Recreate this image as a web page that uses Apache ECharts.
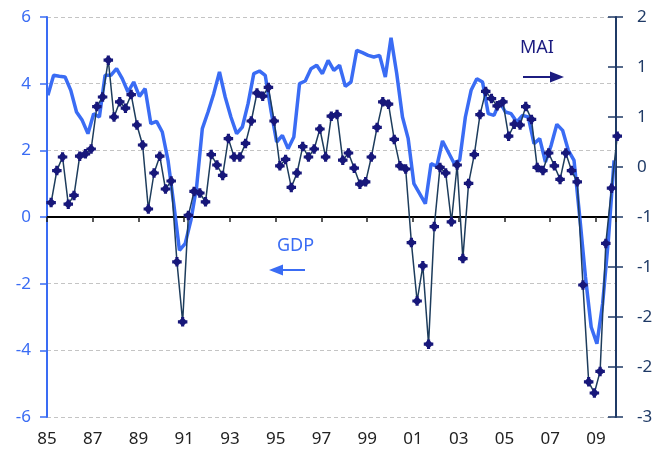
<!DOCTYPE html>
<html>
<head>
<meta charset="utf-8">
<title>GDP and MAI</title>
<style>
  html, body { margin: 0; padding: 0; background: #fff; }
  #main { width: 670px; height: 453px; }
</style>
<script src="https://cdn.jsdelivr.net/npm/echarts@6/dist/echarts.min.js"></script>
</head>
<body>
<div id="main"></div>
<script>
// quarterly data, 1985Q1 .. 2009Q4
var startYear = 1985;

// GDP, % yoy (left axis)
var gdp = [
  3.65, 4.25, 4.22, 4.2, 3.8, 3.15, 2.9, 2.5, 3.1, 3.0,
  4.25, 4.25, 4.45, 4.15, 3.75, 4.05, 3.62, 3.85, 2.8, 2.87,
  2.55, 1.7, 0.4, -1.0, -0.8, -0.1, 0.9, 2.65, 3.15, 3.7,
  4.35, 3.6, 3.0, 2.5, 2.7, 3.4, 4.3, 4.38, 4.25, 3.2,
  2.25, 2.45, 2.05, 2.4, 4.0, 4.08, 4.45, 4.55, 4.3, 4.7,
  4.4, 4.55, 3.92, 4.05, 5.0, 4.93, 4.85, 4.8, 4.85, 4.2,
  5.38, 4.3, 3.0, 2.35, 1.0, 0.7, 0.4, 1.6, 1.52, 2.28,
  1.95, 1.62, 1.7, 3.0, 3.8, 4.15, 4.05, 3.1, 3.05, 3.45,
  3.15, 3.1, 2.85, 3.05, 3.0, 2.2, 2.35, 1.65, 2.15, 2.78,
  2.6, 2.0, 1.7, 0.0, -1.8, -3.3, -3.8, -2.6, -0.7, 1.7
];

// MAI index (right axis)
var mai = [
  -0.32, 0.08, 0.25, -0.34, -0.23, 0.26, 0.29, 0.35, 0.88, 1.0,
  1.46, 0.75, 0.94, 0.86, 1.03, 0.65, 0.4, -0.4, 0.05, 0.26,
  -0.15, -0.05, -1.06, -1.81, -0.48, -0.18, -0.2, -0.31, 0.28, 0.15,
  0.02, 0.48, 0.25, 0.25, 0.42, 0.7, 1.05, 1.01, 1.12, 0.7,
  0.14, 0.22, -0.13, 0.05, 0.38, 0.25, 0.35, 0.6, 0.25, 0.76,
  0.78, 0.21, 0.3, 0.11, -0.09, -0.06, 0.25, 0.62, 0.94, 0.91,
  0.47, 0.14, 0.1, -0.82, -1.55, -1.11, -2.09, -0.62, 0.12, 0.05,
  -0.56, 0.15, -1.02, -0.08, 0.28, 0.78, 1.07, 0.98, 0.89, 0.94,
  0.51, 0.66, 0.65, 0.88, 0.72, 0.12, 0.08, 0.3, 0.14, -0.03,
  0.3, 0.08, -0.06, -1.35, -2.56, -2.7, -2.43, -0.83, -0.14, 0.51
];

// where inside the quarter each series is plotted (fraction of a year)
var gdpShift = 0.04;
var maiShift = 0.18;

var blue = '#3a6cf4';
var navy = '#1f3a66';
var font = 'Noto Sans';

(function(){
    var myChart = echarts.init(document.getElementById('main'));

    function toPairs(arr, shift) {
        return arr.map(function(v, i){ return [startYear + shift + i / 4, v]; });
    }

    var xMin = startYear, xMax = startYear + 24.875;

    // round half away from zero, like the original labels (-0.5 -> -1)
    function roundLabel(v) {
        var r = Math.sign(v) * Math.round(Math.abs(v) + 1e-9);
        return String(r === 0 ? 0 : r);
    }

    var plusSymbol = 'path://M3,0H6V1.5L7.5,3H9V6H7.5L6,7.5V9H3V7.5L1.5,6H0V3H1.5L3,1.5Z';

    var option = {
        animation: false,
        grid: { left: 47, right: 54, top: 17, bottom: 36, containLabel: false },
        xAxis: [{
            // zero line with ticks
            type: 'value', position: 'bottom',
            min: xMin, max: xMax, interval: 2,
            axisLine: { onZero: true, onZeroAxisIndex: 0, lineStyle: { color: '#000', width: 2 } },
            axisTick: { show: true, length: 5, lineStyle: { color: '#222', width: 1.5 } },
            axisLabel: { show: false },
            splitLine: { show: false }
        }, {
            // year labels at the bottom
            type: 'value', position: 'bottom',
            min: xMin, max: xMax, interval: 2,
            axisLine: { show: false, onZero: false },
            axisTick: { show: false },
            splitLine: { show: false },
            axisLabel: {
                margin: 14, color: '#222', fontSize: 17, fontFamily: font,
                formatter: function(v){
                    if (Math.abs(v - Math.round(v)) > 0.01) return '';
                    return String(Math.round(v)).slice(2);
                }
            }
        }],
        yAxis: [{
            type: 'value', position: 'left',
            min: -6, max: 6, interval: 2,
            axisLine: { show: true, onZero: false, lineStyle: { color: blue, width: 2 } },
            axisTick: { show: true, length: 7, lineStyle: { color: blue, width: 1.5 } },
            axisLabel: { color: blue, fontSize: 17, fontFamily: font, margin: 16 },
            splitLine: { show: true, lineStyle: { color: '#c4c4c4', type: [4, 3], width: 1 } }
        }, {
            type: 'value', position: 'right',
            min: -3, max: 2, interval: 0.625,
            axisLine: { show: true, onZero: false, lineStyle: { color: navy, width: 2 } },
            axisTick: { show: true, length: 7, lineStyle: { color: navy, width: 1.5 } },
            axisLabel: { color: navy, fontSize: 17, fontFamily: font, margin: 21, formatter: roundLabel },
            splitLine: { show: false }
        }, {
            // inner half of the crossing ticks on the right axis
            type: 'value', position: 'right',
            min: -3, max: 2, interval: 0.625,
            axisLine: { show: false, onZero: false },
            axisTick: { show: true, inside: true, length: 8, lineStyle: { color: navy, width: 1.5 } },
            axisLabel: { show: false },
            splitLine: { show: false }
        }],
        graphic: [
            { type: 'text', left: 277, top: 237, style: { text: 'GDP', fill: blue, font: '18px ' + font } },
            { type: 'line', shape: { x1: 278, y1: 270, x2: 305, y2: 270 }, style: { stroke: blue, lineWidth: 2 } },
            { type: 'polygon', shape: { points: [[269, 270], [283, 264.5], [283, 275.5]] }, style: { fill: blue } },
            { type: 'text', left: 520, top: 39, style: { text: 'MAI', fill: '#1c1c80', font: '18px ' + font } },
            { type: 'line', shape: { x1: 523, y1: 77, x2: 554, y2: 77 }, style: { stroke: '#1c1c80', lineWidth: 2 } },
            { type: 'polygon', shape: { points: [[564, 77], [550, 71.5], [550, 82.5]] }, style: { fill: '#1c1c80' } }
        ],
        series: [{
            name: 'GDP',
            type: 'line',
            xAxisIndex: 0, yAxisIndex: 0,
            data: toPairs(gdp, gdpShift),
            showSymbol: false,
            clip: false,
            lineStyle: { color: blue, width: 3.5 },
            z: 2
        }, {
            name: 'MAI',
            type: 'line',
            xAxisIndex: 0, yAxisIndex: 1,
            data: toPairs(mai, maiShift),
            symbol: plusSymbol,
            symbolSize: 9.5,
            showAllSymbol: true,
            clip: false,
            itemStyle: { color: '#17177a' },
            lineStyle: { color: '#1d3c5c', width: 1.5 },
            z: 3
        }]
    };

    myChart.setOption(option);
    window.addEventListener('resize', function(){ myChart.resize(); });
})();
</script>
</body>
</html>
